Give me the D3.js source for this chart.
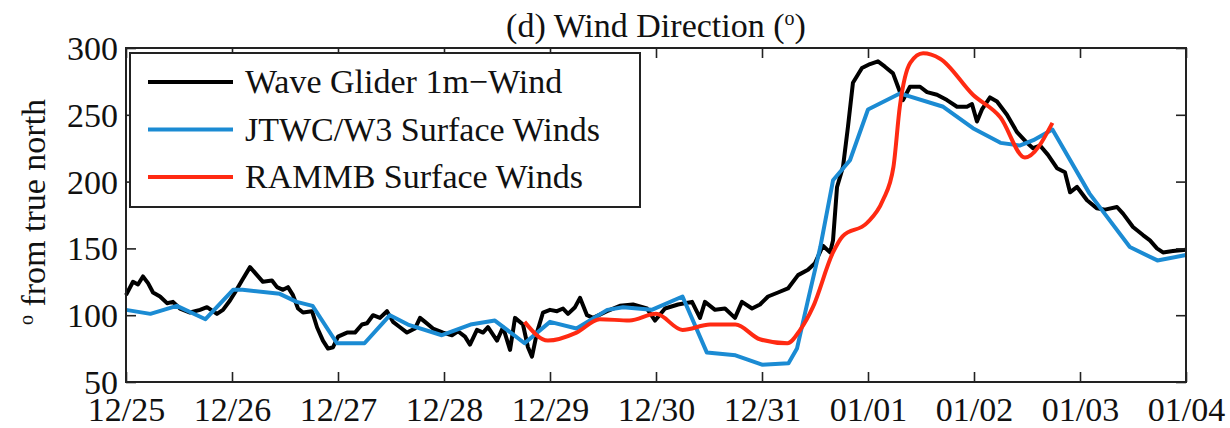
<!DOCTYPE html>
<html>
<head>
<meta charset="utf-8">
<script src="https://cdn.jsdelivr.net/npm/d3@7"></script>
<style>
  html, body { margin: 0; padding: 0; background: #fff; }
  svg { display: block; }
  text { font-family: "Liberation Serif", "Times New Roman", serif; fill: #111; }
</style>
</head>
<body>
<svg id="chart" width="1230" height="428"></svg>
<script>
// ---- Data (x = days since 12/25 00:00) ----
const xTickLabels = ["12/25","12/26","12/27","12/28","12/29","12/30","12/31","01/01","01/02","01/03","01/04"];
const yTicks = [50, 100, 150, 200, 250, 300];

const gliderDays = [0.000,0.066,0.113,0.160,0.208,0.255,0.321,0.387,0.443,0.509,0.604,0.698,0.764,0.858,0.915,0.981,1.028,1.094,1.170,1.236,1.292,1.377,1.425,1.481,1.528,1.575,1.623,1.670,1.755,1.802,1.858,1.906,1.953,2.000,2.085,2.160,2.226,2.274,2.330,2.396,2.462,2.519,2.585,2.651,2.726,2.774,2.821,2.896,2.991,3.075,3.132,3.198,3.245,3.311,3.368,3.415,3.500,3.557,3.623,3.670,3.745,3.792,3.830,3.877,3.934,4.000,4.066,4.123,4.170,4.236,4.283,4.349,4.406,4.538,4.660,4.783,4.915,4.991,5.085,5.208,5.340,5.415,5.462,5.557,5.651,5.745,5.811,5.906,5.981,6.057,6.151,6.245,6.340,6.434,6.500,6.575,6.642,6.670,6.708,6.764,6.811,6.858,6.943,7.019,7.094,7.160,7.236,7.283,7.330,7.396,7.491,7.557,7.651,7.745,7.840,7.934,7.981,8.028,8.075,8.151,8.217,8.311,8.406,8.500,8.557,8.623,8.698,8.783,8.858,8.906,8.972,9.066,9.160,9.236,9.349,9.406,9.500,9.594,9.660,9.726,9.783,9.877,10.000];
const gliderDir = [115,125,123,129,124,117,114,109,110,105,102,104,106,101,104,111,117,126,136,130,125,126,121,119,121,115,105,102,103,91,81,75,76,84,87,87,93,94,100,98,103,95,91,87,90,98,95,90,87,85,88,84,78,89,87,91,81,91,74,98,93,76,69,87,102,104,103,105,101,106,113,100,98,103,107,108,105,96,105,108,110,98,110,104,105,98,110,105,108,114,117,120,130,134,139,152,147,156,196,211,241,274,285,288,290,286,281,271,261,271,271,267,265,261,256,256,258,245,254,263,260,250,237,229,225,227,220,210,207,192,196,186,180,179,181,176,166,160,156,150,147,148,149];

const jtwcDays = [0,0.23,0.48,0.75,1.01,1.10,1.45,1.61,1.76,1.99,2.25,2.49,2.66,2.98,3.25,3.48,3.76,4.00,4.25,4.54,4.69,4.96,5.25,5.48,5.75,6.00,6.25,6.33,6.43,6.55,6.67,6.83,7.00,7.30,7.71,7.99,8.25,8.43,8.56,8.74,9.09,9.47,9.73,10.0];
const jtwcDir  = [104,101,107,97,119,119,116,110,107,79,79,100,93,85,93,96,79,95,90,104,106,104,114,72,70,63,64,75,110,151,201,216,254,266,256,240,229,227,231,239,191,151,141,145];

const rammbDays = [3.76,3.98,4.25,4.47,4.75,5.00,5.25,5.51,5.75,5.98,6.24,6.36,6.48,6.67,6.76,6.99,7.14,7.24,7.30,7.40,7.52,7.68,7.99,8.25,8.48,8.74];
const rammbDir  = [95,81,87,97,96,101,89,93,93,82,79,89,106,147,159,169,186,211,256,289,296,292,265,248,218,244];

const seriesNames = ["Wave Glider 1m\u2212Wind", "JTWC/W3 Surface Winds", "RAMMB Surface Winds"];
const seriesColors = ["#000000", "#1b8bd3", "#ff2a12"];

// ---- Layout ----
const svg = d3.select("#chart");
const L = 126, R = 1186, T = 48, B = 382;
const x = d3.scaleLinear().domain([0, 10]).range([L, R]);
const y = d3.scaleLinear().domain([50, 300]).range([B, T]);
const FS = 34;

// series lines
const zip = (a, b) => a.map((d, i) => [d, b[i]]);
const line = d3.line().x(d => x(d[0])).y(d => y(d[1]));
const smooth = d3.line().x(d => x(d[0])).y(d => y(d[1])).curve(d3.curveMonotoneX);

const g = svg.append("g");
g.append("path").datum(zip(gliderDays, gliderDir)).attr("d", line)
  .attr("fill", "none").attr("stroke", seriesColors[0]).attr("stroke-width", 4).attr("stroke-linejoin", "round");
g.append("path").datum(zip(jtwcDays, jtwcDir)).attr("d", line)
  .attr("fill", "none").attr("stroke", seriesColors[1]).attr("stroke-width", 4).attr("stroke-linejoin", "round");
g.append("path").datum(zip(rammbDays, rammbDir)).attr("d", smooth)
  .attr("fill", "none").attr("stroke", seriesColors[2]).attr("stroke-width", 4).attr("stroke-linejoin", "round");

// axes (inward ticks)
const xt = d3.range(0, 11);
const axB = svg.append("g").attr("transform", `translate(0,${B})`)
  .call(d3.axisBottom(x).tickValues(xt).tickFormat((d, i) => xTickLabels[i]).tickSizeInner(-10).tickSizeOuter(0).tickPadding(14));
const axT = svg.append("g").attr("transform", `translate(0,${T})`)
  .call(d3.axisTop(x).tickValues(xt).tickFormat("").tickSizeInner(-10).tickSizeOuter(0));
const axL = svg.append("g").attr("transform", `translate(${L},0)`)
  .call(d3.axisLeft(y).tickValues(yTicks).tickSizeInner(-10).tickSizeOuter(0).tickPadding(8));
const axR = svg.append("g").attr("transform", `translate(${R},0)`)
  .call(d3.axisRight(y).tickValues(yTicks).tickFormat("").tickSizeInner(-10).tickSizeOuter(0));
[axB, axT, axL, axR].forEach(a => {
  a.select(".domain").remove();
  a.selectAll(".tick line").attr("stroke", "#222").attr("stroke-width", 1.6);
  a.selectAll(".tick text").attr("font-size", FS).attr("font-family", "Liberation Serif").attr("fill", "#111");
});
axB.selectAll(".tick text").attr("dy", null).attr("y", 39);
axL.selectAll(".tick text").attr("dy", "0.34em");

svg.append("rect").attr("x", L).attr("y", T).attr("width", R - L).attr("height", B - T)
  .attr("fill", "none").attr("stroke", "#222").attr("stroke-width", 2);

// legend
const leg = svg.append("g");
leg.append("rect").attr("x", 130).attr("y", 53).attr("width", 510).attr("height", 154)
  .attr("fill", "#fff").attr("stroke", "#222").attr("stroke-width", 2);
seriesNames.forEach((name, i) => {
  const ly = 82 + i * 47.5;
  leg.append("line").attr("x1", 148).attr("x2", 233).attr("y1", ly).attr("y2", ly)
    .attr("stroke", seriesColors[i]).attr("stroke-width", 4);
  leg.append("text").attr("x", 245).attr("y", ly + 11).attr("font-size", FS).text(name);
});

// title
const title = svg.append("text").attr("x", (L + R) / 2).attr("y", 37)
  .attr("text-anchor", "middle").attr("font-size", FS);
title.append("tspan").text("(d) Wind Direction (");
title.append("tspan").attr("font-size", 20).attr("dy", -12).text("o");
title.append("tspan").attr("dy", 12).text(")");

// y label
const yl = svg.append("text").attr("transform", "translate(45,212) rotate(-90)")
  .attr("text-anchor", "middle").attr("font-size", FS);
yl.append("tspan").attr("font-size", 20).attr("dy", -12).text("o");
yl.append("tspan").attr("dy", 12).text(" from true north");
</script>
</body>
</html>
